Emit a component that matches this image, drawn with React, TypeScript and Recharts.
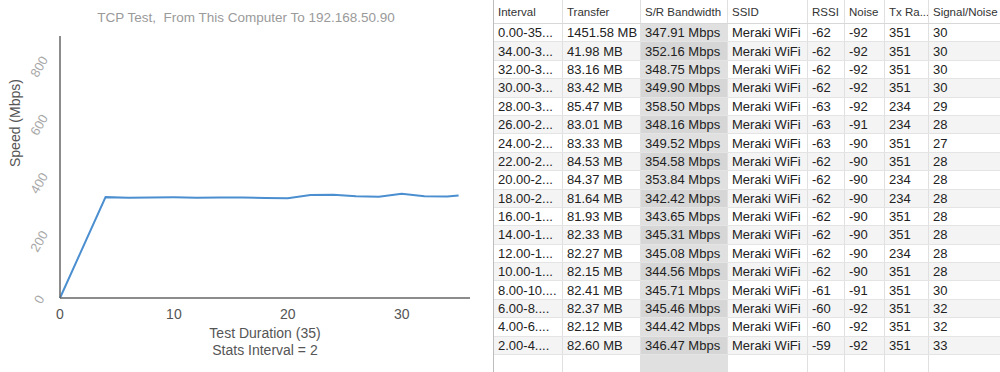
import { LineChart, Line, XAxis, YAxis, Label } from 'recharts';

// chart series: end of each stats interval (s) vs S/R bandwidth (Mbps)
const times = [0, 4, 6, 8, 10, 12, 14, 16, 18, 20, 22, 24, 26, 28, 30, 32, 34, 35];
const speeds = [
  0, 346.47, 344.42, 345.46, 345.71, 344.56, 345.08, 345.31, 343.65, 342.42,
  353.84, 354.58, 349.52, 348.16, 358.5, 349.9, 348.75, 352.16,
];
const xTicks = [0, 10, 20, 30];
const yTicks = [0, 200, 400, 600, 800];

// table columns
const headers = ['Interval', 'Transfer', 'S/R Bandwidth', 'SSID', 'RSSI', 'Noise', 'Tx Ra...', 'Signal/Noise'];
const intervals = [
  '0.00-35...', '34.00-3...', '32.00-3...', '30.00-3...', '28.00-3...', '26.00-2...',
  '24.00-2...', '22.00-2...', '20.00-2...', '18.00-2...', '16.00-1...', '14.00-1...',
  '12.00-1...', '10.00-1...', '8.00-10....', '6.00-8....', '4.00-6....', '2.00-4....',
];
const transfers = [
  '1451.58 MB', '41.98 MB', '83.16 MB', '83.42 MB', '85.47 MB', '83.01 MB',
  '83.33 MB', '84.53 MB', '84.37 MB', '81.64 MB', '81.93 MB', '82.33 MB',
  '82.27 MB', '82.15 MB', '82.41 MB', '82.37 MB', '82.12 MB', '82.60 MB',
];
const bandwidths = [
  '347.91 Mbps', '352.16 Mbps', '348.75 Mbps', '349.90 Mbps', '358.50 Mbps', '348.16 Mbps',
  '349.52 Mbps', '354.58 Mbps', '353.84 Mbps', '342.42 Mbps', '343.65 Mbps', '345.31 Mbps',
  '345.08 Mbps', '344.56 Mbps', '345.71 Mbps', '345.46 Mbps', '344.42 Mbps', '346.47 Mbps',
];
const rssi = ['-62', '-62', '-62', '-62', '-63', '-63', '-63', '-62', '-62', '-62', '-62', '-62', '-62', '-62', '-61', '-60', '-60', '-59'];
const noise = ['-92', '-92', '-92', '-92', '-92', '-91', '-90', '-90', '-90', '-90', '-90', '-90', '-90', '-90', '-91', '-92', '-92', '-92'];
const txRate = ['351', '351', '351', '351', '234', '234', '351', '351', '234', '234', '351', '351', '234', '351', '351', '351', '351', '351'];
const snr = ['30', '30', '30', '30', '29', '28', '27', '28', '28', '28', '28', '28', '28', '28', '30', '32', '32', '33'];
const ssid = 'Meraki WiFi';

const colWidths = [69, 78, 87, 80, 37, 40, 44, 72];

const data = times.map((t, i) => ({ t, speed: speeds[i] }));

const FONT = 'Arial, "Liberation Sans", Helvetica, sans-serif';

function YTick(props: any) {
  const { x, y, payload } = props;
  return (
    <text
      x={x - 12}
      y={y + 2}
      transform={`rotate(-60, ${x - 12}, ${y + 2})`}
      textAnchor="middle"
      dominantBaseline="middle"
      fill="#a8a8a8"
      fontSize={13}
      fontFamily={FONT}
    >
      {payload.value}
    </text>
  );
}

function Chart() {
  return (
    <div style={{ position: 'absolute', left: 0, top: 0, width: 490, height: 372 }}>
      <div
        style={{
          position: 'absolute', top: 10, left: 0, width: 492, textAlign: 'center',
          fontFamily: FONT, fontSize: 13.5, color: '#9a9a9a',
        }}
      >
        TCP Test,&nbsp; From This Computer To 192.168.50.90
      </div>
      <LineChart width={490} height={372} data={data} margin={{ top: 36, right: 20, left: 0, bottom: 44 }}>
        <XAxis
          dataKey="t"
          type="number"
          domain={[0, 36]}
          ticks={xTicks}
          tickLine={false}
          axisLine={{ stroke: '#666', strokeWidth: 1.5 }}
          tick={{ fill: '#555', fontSize: 14, fontFamily: FONT }}
          tickMargin={5}
          height={30}
        />
        <YAxis
          type="number"
          domain={[0, 900]}
          ticks={yTicks}
          tickLine={false}
          axisLine={{ stroke: '#666', strokeWidth: 1.5 }}
          tick={<YTick />}
          width={60}
        >
          <Label value="Speed (Mbps)" angle={-90} position="insideLeft" offset={15} fill="#555" fontSize={14} fontFamily={FONT} />
        </YAxis>
        <Line
          type="linear"
          dataKey="speed"
          stroke="#4b8fd0"
          strokeWidth={2}
          dot={false}
          isAnimationActive={false}
        />
      </LineChart>
      <div
        style={{
          position: 'absolute', top: 325, left: 60, width: 410, textAlign: 'center',
          fontFamily: FONT, fontSize: 14, color: '#555', lineHeight: '17px',
        }}
      >
        <div>Test Duration (35)</div>
        <div>Stats Interval = 2</div>
      </div>
    </div>
  );
}

function Cell({ text, w, shaded, header }: { text: string; w: number; shaded: boolean; header?: boolean }) {
  return (
    <div
      style={{
        width: w, boxSizing: 'border-box', borderRight: '1px solid #e0e0e0',
        padding: header ? '0 4px' : '0 4px', whiteSpace: 'nowrap', overflow: 'hidden',
        background: shaded ? 'rgba(0,0,0,0.12)' : 'transparent',
        height: '100%', display: 'flex', alignItems: 'center',
      }}
    >
      {text}
    </div>
  );
}

function Table() {
  const rows = intervals.map((iv, i) => [iv, transfers[i], bandwidths[i], ssid, rssi[i], noise[i], txRate[i], snr[i]]);
  return (
    <div
      style={{
        position: 'absolute', left: 493, top: 0, width: 507, height: 372,
        borderLeft: '1px solid #bdbdbd', fontFamily: FONT, color: '#222', background: '#fff',
        overflow: 'hidden',
      }}
    >
      <div style={{ display: 'flex', height: 24, boxSizing: 'border-box', borderBottom: '1px solid #d8d8d8', fontSize: 11.5, color: '#333' }}>
        {headers.map((h, j) => (
          <Cell key={j} text={h} w={colWidths[j]} shaded={false} header />
        ))}
      </div>
      {rows.map((r, i) => (
        <div
          key={i}
          style={{
            display: 'flex', height: 18.4, boxSizing: 'border-box', borderBottom: '1px solid #e4e4e4',
            fontSize: 13, background: i % 2 === 1 ? '#f4f4f4' : '#fff',
          }}
        >
          {r.map((c, j) => (
            <Cell key={j} text={c} w={colWidths[j]} shaded={j === 2} />
          ))}
        </div>
      ))}
      <div style={{ display: 'flex', height: 30 }}>
        {colWidths.map((w, j) => (
          <Cell key={j} text="" w={w} shaded={j === 2} />
        ))}
      </div>
    </div>
  );
}

export default function App() {
  return (
    <div style={{ position: 'absolute', left: 0, top: 0, width: 1000, height: 372, background: '#fff', overflow: 'hidden' }}>
      <Chart />
      <Table />
    </div>
  );
}
